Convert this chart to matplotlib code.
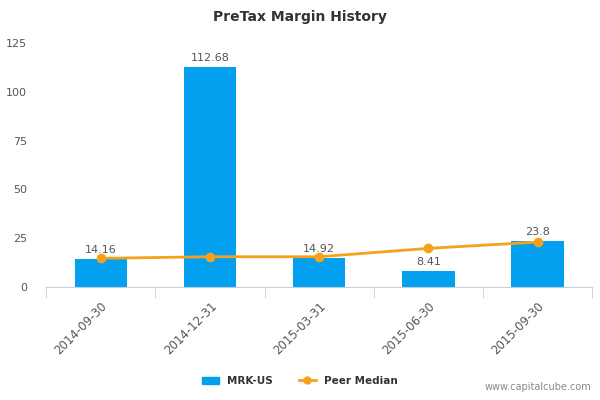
import matplotlib.pyplot as plt
import numpy as np

dates = ["2014-09-30", "2014-12-31", "2015-03-31", "2015-06-30", "2015-09-30"]
mrk = [14.16, 112.68, 14.92, 8.41, 23.8]
peer = [14.7, 15.5, 15.5, 19.8, 23.0]
yticks = [0, 25, 50, 75, 100, 125]

bar_col = "#03A0F0"
line_col = "#F7A11A"
txt_col = "#555555"

fig = plt.figure(figsize=(6, 4), dpi=100)
ax = fig.add_axes([0.077, 0.2825, 0.91, 0.61])

x = np.arange(len(dates))
ax.bar(x, mrk, width=0.48, color=bar_col, zorder=2)
ax.plot(x, peer, color=line_col, lw=2, marker="o", ms=6, zorder=3)

for xi, v in zip(x, mrk):
    ax.text(xi, v + 2, f"{v:g}", ha="center", va="bottom", fontsize=8, color=txt_col, zorder=4)

ax.set_xlim(-0.5, len(dates) - 0.5)
ax.set_ylim(0, 125)
ax.set_yticks(yticks)
ax.set_yticklabels([str(t) for t in yticks], fontsize=8, color=txt_col)
ax.tick_params(axis="y", length=0, pad=14)

ax.set_xticks(x)
ax.set_xticklabels(dates, rotation=45, ha="right", rotation_mode="anchor", fontsize=8.5, color=txt_col)
ax.set_xticks(np.arange(-0.5, len(dates)), minor=True)
ax.tick_params(axis="x", which="major", length=0, pad=9)
ax.tick_params(axis="x", which="minor", length=8, color="#C0D0E0")

for s in ["top", "right", "left"]:
    ax.spines[s].set_visible(False)
ax.spines["bottom"].set_color("#C0D0E0")

fig.suptitle("PreTax Margin History", x=0.5, y=0.975, fontsize=10, color="#333333", fontweight="bold")

h1 = plt.Rectangle((0, 0), 1, 1, color=bar_col)
h2 = plt.Line2D([], [], color=line_col, lw=2, marker="o", ms=5)
fig.legend([h1, h2], ["MRK-US", "Peer Median"], loc="center", bbox_to_anchor=(0.5, 0.048),
           ncol=2, frameon=False, prop={"size": 7.5, "weight": "bold"}, handlelength=1.6,
           columnspacing=2.5, labelcolor="#333333")

fig.text(0.985, 0.02, "www.capitalcube.com", ha="right", va="bottom", fontsize=7, color="#888888")

fig.savefig("out.png", dpi=100)
